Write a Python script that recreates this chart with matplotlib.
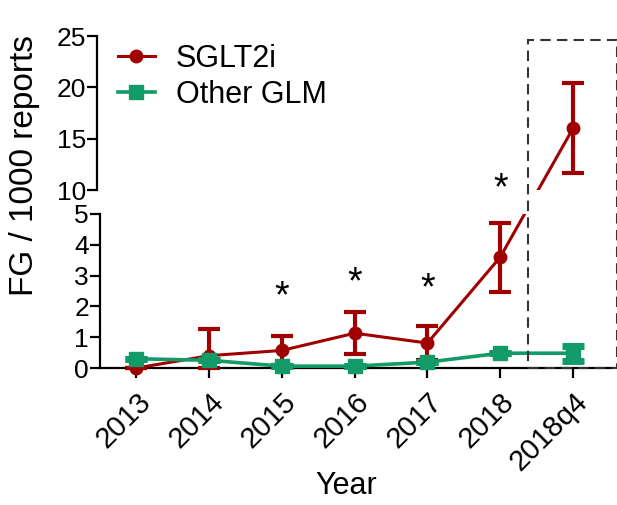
#!/usr/bin/env python3
import matplotlib
matplotlib.use("Agg")
import matplotlib.pyplot as plt
from matplotlib.lines import Line2D
from matplotlib.patches import Rectangle

plt.rcParams["font.family"] = ["Liberation Sans", "DejaVu Sans"]

YEARS = ["2013", "2014", "2015", "2016", "2017", "2018", "2018q4"]

SGLT2I = [0.0, 0.4, 0.57, 1.13, 0.81, 3.6, 16.0]
SGLT2I_LO = [0.0, 0.4, 0.47, 0.68, 0.55, 1.12, 4.3]
SGLT2I_HI = [0.0, 0.87, 0.47, 0.7, 0.55, 1.1, 4.4]

OTHER = [0.3, 0.25, 0.06, 0.06, 0.19, 0.48, 0.48]
OTHER_ERR = [0.0, 0.0, 0.0, 0.0, 0.0, 0.0, 0.24]

STARS = {"2015": 2.3, "2016": 2.75, "2017": 2.55, "2018": 5.8}

RED = "#A00000"
GREEN = "#129B68"

W, H = 617, 505
fig = plt.figure(figsize=(W / 100, H / 100), dpi=100)
ax_b = fig.add_axes([100 / W, (H - 368) / H, 513 / W, 154 / H])
ax_t = fig.add_axes([100 / W, (H - 190) / H, 513 / W, 154 / H])

x = list(range(len(YEARS)))
xlim = (-0.5, 6.55)

for ax in (ax_b, ax_t):
    ax.set_xlim(*xlim)
    ax.set_facecolor("none")
    for s in ("top", "right"):
        ax.spines[s].set_visible(False)
    ax.spines["left"].set_linewidth(1.6)
    ax.tick_params(axis="y", direction="out", length=7, width=1.6,
                   labelsize=19, pad=1)

ax_b.set_ylim(0, 5)
ax_b.set_yticks([0, 1, 2, 3, 4, 5])
ax_t.set_ylim(10, 25)
ax_t.set_yticks([10, 15, 20, 25])
ax_t.spines["bottom"].set_visible(False)
ax_t.spines["left"].set_position(("outward", 2))
ax_t.set_xticks([])
ax_b.spines["bottom"].set_linewidth(1.6)
ax_b.set_xticks(x)
ax_b.set_xticklabels(YEARS, rotation=45, ha="right", rotation_mode="anchor")
ax_b.tick_params(axis="x", direction="out", length=7, width=1.6,
                 labelsize=21, pad=7)

# SGLT2i: points in bottom axis (first 6), last one in top axis
n = len(YEARS) - 1
ax_b.plot(x[:n], SGLT2I[:n], "-", color=RED, lw=2.2, zorder=3)
ax_b.errorbar(x[:n], SGLT2I[:n], yerr=[SGLT2I_LO[:n], SGLT2I_HI[:n]],
              fmt="o", color=RED, ms=9, elinewidth=3, capsize=8,
              capthick=3, zorder=3, clip_on=False)
ax_t.errorbar(x[n:], SGLT2I[n:], yerr=[SGLT2I_LO[n:], SGLT2I_HI[n:]],
              fmt="o", color=RED, ms=9, elinewidth=3, capsize=8,
              capthick=3, zorder=3)

# segment crossing the break, straight on screen
p0 = ax_b.transData.transform((x[n - 1], SGLT2I[n - 1]))
p1 = ax_t.transData.transform((x[n], SGLT2I[n]))
for ax in (ax_b, ax_t):
    inv = ax.transData.inverted()
    q0, q1 = inv.transform(p0), inv.transform(p1)
    ax.plot([q0[0], q1[0]], [q0[1], q1[1]], "-", color=RED, lw=2.2, zorder=3)

ax_b.plot(x, OTHER, "-", color=GREEN, lw=2.6, zorder=4)
ax_b.errorbar(x, OTHER, yerr=OTHER_ERR, fmt="s", color=GREEN, ms=10,
              elinewidth=3, capsize=8, capthick=5, zorder=4, clip_on=False)

for yr, yv in STARS.items():
    ax_b.text(YEARS.index(yr), yv, "*", ha="center", va="center",
              fontsize=27)

fig.text(346 / W, (H - 486) / H, "Year", ha="center", va="center",
         fontsize=22)
fig.text(24 / W, (H - 165) / H, "FG / 1000 reports", rotation=90,
         ha="center", va="center", fontsize=24)

handles = [
    Line2D([], [], color=RED, marker="o", ms=9, lw=2.2, label="SGLT2i"),
    Line2D([], [], color=GREEN, marker="s", ms=10, lw=2.6, label="Other GLM"),
]
ax_t.legend(handles=handles, loc="upper left", bbox_to_anchor=(0.035, 0.95),
            frameon=False, fontsize=22, handlelength=1.2, handletextpad=0.7,
            labelspacing=0.2, borderaxespad=0, borderpad=0)

# dashed box around the quarter point
bl = ax_b.transData.transform((5.38, 0))
tr = ax_t.transData.transform((6.6, 24.6))
inv = fig.transFigure.inverted()
bl, tr = inv.transform(bl), inv.transform(tr)
fig.patches.append(Rectangle(bl, tr[0] - bl[0], tr[1] - bl[1],
                             transform=fig.transFigure, fill=False,
                             edgecolor="#333333", lw=1.5,
                             linestyle=(0, (5, 3))))

fig.savefig("out.png", dpi=100)
